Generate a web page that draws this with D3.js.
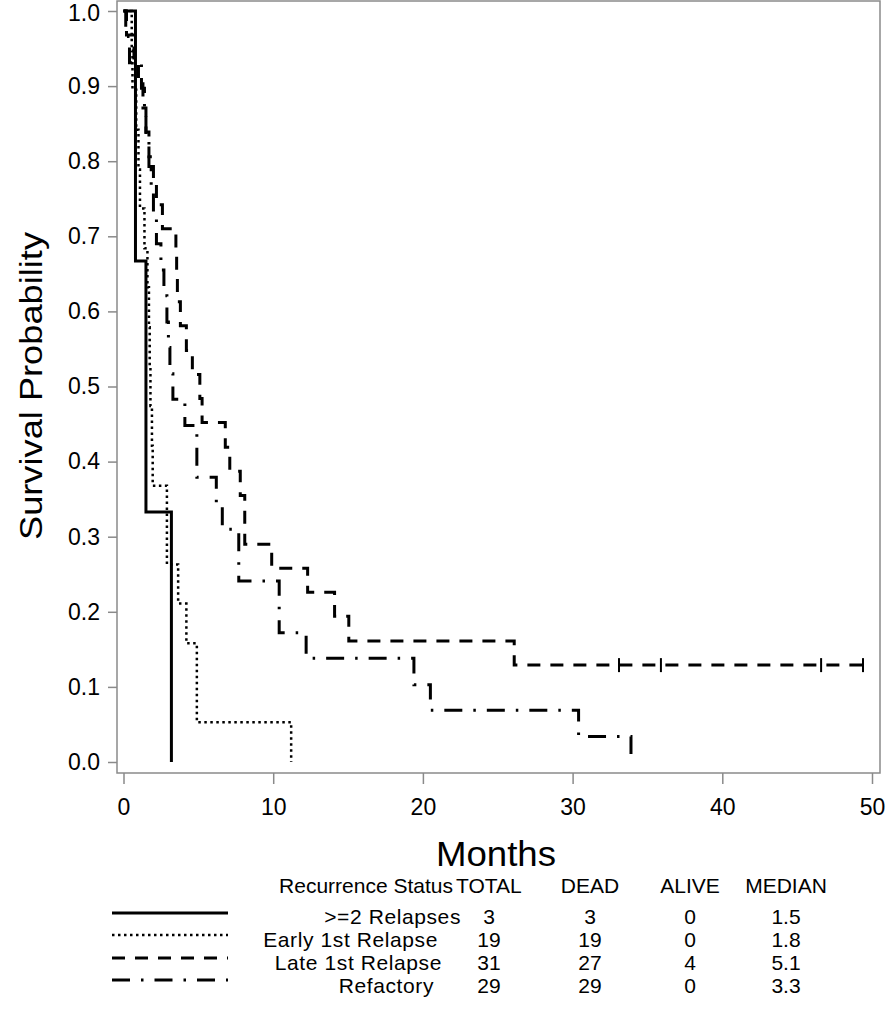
<!DOCTYPE html>
<meta charset="utf-8">
<style>
body { margin: 0; background: #fff; }
text { font-family: "Liberation Sans", Arial, Helvetica, sans-serif; fill: #000; }
</style>
<body>
<div id="chart"></div>
<script src="https://cdn.jsdelivr.net/npm/d3@7"></script>
<script>

// groups and summary table
var groups  = [">=2 Relapses", "Early 1st Relapse", "Late 1st Relapse", "Refactory"];
var totals  = [3, 19, 31, 29];
var deads   = [3, 19, 27, 29];
var alives  = [0, 0, 4, 0];
var medians = ["1.5", "1.8", "5.1", "3.3"];
var header  = ["Recurrence Status", "TOTAL", "DEAD", "ALIVE", "MEDIAN"];

// step curves: event times (months) and survival after each event
var relapse2Times = [0.8, 1.5, 3.2];
var relapse2Surv  = [0.667, 0.333, 0.0];

var earlyTimes = [0.55, 0.6, 0.85, 1.0, 1.1, 1.4, 1.6, 1.7, 1.75, 1.8, 1.9, 1.95, 2.9, 3.65, 4.2, 4.9, 11.2];
var earlySurv  = [0.947, 0.895, 0.842, 0.789, 0.737, 0.684, 0.632, 0.579, 0.526, 0.474, 0.421, 0.368, 0.263, 0.211, 0.158, 0.053, 0.0];

var lateTimes = [0.2, 0.7, 1.0, 1.3, 1.5, 1.7, 2.0, 2.2, 2.6, 3.5, 3.55, 3.6, 3.8, 4.2, 4.6, 5.1, 5.25, 6.8, 7.1, 7.8, 8.1, 9.9, 12.3, 14.1, 15.05, 26.1, 49.4];
var lateSurv  = [0.968, 0.935, 0.903, 0.871, 0.839, 0.806, 0.774, 0.742, 0.710, 0.677, 0.645, 0.613, 0.581, 0.548, 0.516, 0.484, 0.452, 0.419, 0.387, 0.355, 0.290, 0.258, 0.226, 0.194, 0.161, 0.129, 0.129];
var lateCensor = [33.1, 35.9, 46.6, 49.4];

var refTimes = [0.15, 0.4, 1.2, 1.4, 1.5, 1.7, 1.85, 2.0, 2.2, 2.5, 2.7, 2.9, 3.0, 3.1, 3.3, 4.1, 4.9, 6.2, 6.6, 7.7, 10.4, 12.2, 19.4, 20.5, 30.4, 33.9];
var refSurv  = [0.966, 0.931, 0.897, 0.862, 0.828, 0.793, 0.759, 0.724, 0.690, 0.655, 0.621, 0.586, 0.552, 0.517, 0.483, 0.448, 0.379, 0.345, 0.310, 0.241, 0.172, 0.138, 0.103, 0.069, 0.034, 0.0];

var xTicks = [0, 10, 20, 30, 40, 50];
var yTicks = [0, 0.1, 0.2, 0.3, 0.4, 0.5, 0.6, 0.7, 0.8, 0.9, 1.0];

// layout
var width = 894, height = 1011;
var frame = {left: 117, right: 880, top: 1, bottom: 773};

var svg = d3.select("#chart").append("svg")
    .attr("width", width).attr("height", height);

var x = d3.scaleLinear().domain([0, 50]).range([123.5, 872]);
var y = d3.scaleLinear().domain([0, 1]).range([762, 11]);

// line styles, one per group
var styles = [
  {dash: null,           w: 3},
  {dash: "2.5,3.5",      w: 2.5},
  {dash: "13,10",        w: 3},
  {dash: "18,11,2.5,11", w: 3}
];

// frame
svg.append("rect")
   .attr("x", frame.left).attr("y", frame.top)
   .attr("width", frame.right - frame.left)
   .attr("height", frame.bottom - frame.top)
   .attr("fill", "none")
   .attr("stroke", "#8a8a8a")
   .attr("stroke-width", 1.5);

// axes
var yAxis = svg.append("g")
   .attr("transform", "translate(" + frame.left + ",0)")
   .call(d3.axisLeft(y).tickValues(yTicks).tickFormat(d3.format(".1f")).tickSize(9).tickPadding(8));

var xAxis = svg.append("g")
   .attr("transform", "translate(0," + frame.bottom + ")")
   .call(d3.axisBottom(x).tickValues(xTicks).tickSize(11).tickPadding(15));

[xAxis, yAxis].forEach(function(g) {
  g.select(".domain").remove();
  g.selectAll(".tick line").attr("stroke", "#8a8a8a").attr("stroke-width", 1.5);
  g.selectAll(".tick text")
   .attr("font-family", '"Liberation Sans", Arial, sans-serif')
   .attr("font-size", 23)
   .attr("fill", "#000");
});
// keep the top label inside the page
yAxis.selectAll(".tick text").filter(function(d) { return d == 1; }).attr("dy", "0.4em");

// axis titles
svg.append("text")
   .attr("transform", "translate(42,386) rotate(-90)")
   .attr("text-anchor", "middle")
   .attr("font-size", 32)
   .attr("textLength", 308)
   .attr("lengthAdjust", "spacingAndGlyphs")
   .text("Survival Probability");

svg.append("text")
   .attr("x", 496).attr("y", 866)
   .attr("text-anchor", "middle")
   .attr("font-size", 35)
   .attr("textLength", 120)
   .attr("lengthAdjust", "spacingAndGlyphs")
   .text("Months");

// curves
var curves = [
  {t: relapse2Times, s: relapse2Surv},
  {t: earlyTimes, s: earlySurv},
  {t: lateTimes, s: lateSurv},
  {t: refTimes, s: refSurv}
];

var line = d3.line()
   .x(function(d) { return x(d[0]); })
   .y(function(d) { return y(d[1]); })
   .curve(d3.curveStepAfter);

curves.forEach(function(c, i) {
  var pts = [[0, 1]];
  for (var k = 0; k < c.t.length; k++) pts.push([c.t[k], c.s[k]]);
  svg.append("path")
     .attr("d", line(pts))
     .attr("fill", "none")
     .attr("stroke", "#000")
     .attr("stroke-width", styles[i].w)
     .attr("stroke-dasharray", styles[i].dash);
});

// censored marks on Late 1st Relapse
svg.selectAll(".censor")
   .data(lateCensor)
   .enter()
   .append("line")
   .attr("class", "censor")
   .attr("x1", function(d) { return x(d); })
   .attr("x2", function(d) { return x(d); })
   .attr("y1", y(0.129) - 7)
   .attr("y2", y(0.129) + 7)
   .attr("stroke", "#000")
   .attr("stroke-width", 2);

// legend table
var colX = [453, 489, 590, 690, 786];
var rowY = [893, 924, 947, 970, 993];
var labelRight = [461, 438, 442, 434];
var lineY = [913, 935, 958, 980];
var fs = 21;

svg.selectAll(".hdr")
   .data(header)
   .enter()
   .append("text")
   .attr("class", "hdr")
   .attr("x", function(d, i) { return i == 1 ? 456 : colX[i]; })
   .attr("y", rowY[0])
   .attr("text-anchor", function(d, i) { return i == 0 ? "end" : (i == 1 ? "start" : "middle"); })
   .attr("font-size", fs)
   .text(function(d) { return d; });

groups.forEach(function(g, i) {
  var ry = rowY[i + 1];
  var row = [g, totals[i], deads[i], alives[i], medians[i]];
  row.forEach(function(v, j) {
    svg.append("text")
       .attr("x", j == 0 ? labelRight[i] : colX[j])
       .attr("y", ry)
       .attr("text-anchor", j == 0 ? "end" : "middle")
       .attr("font-size", fs)
       .attr("letter-spacing", j == 0 ? 0.6 : 0)
       .text(v);
  });
  svg.append("line")
     .attr("x1", 112).attr("x2", 228)
     .attr("y1", lineY[i]).attr("y2", lineY[i])
     .attr("stroke", "#000")
     .attr("stroke-width", styles[i].w)
     .attr("stroke-dasharray", styles[i].dash);
});

</script>
